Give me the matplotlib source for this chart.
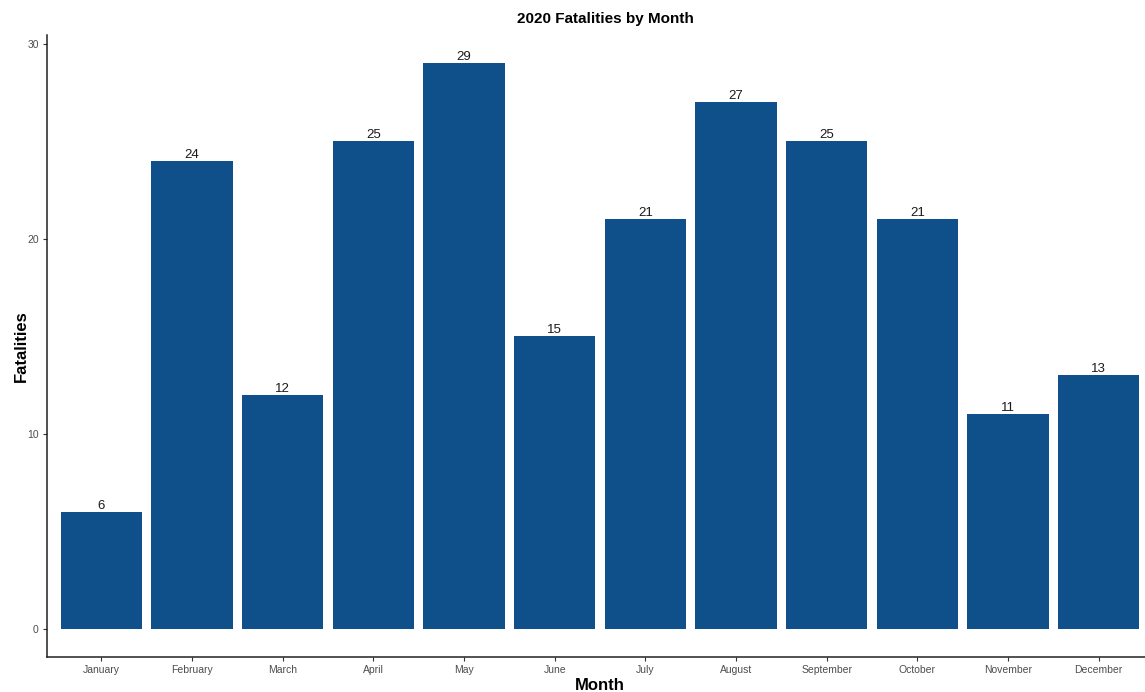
import matplotlib
matplotlib.use('Agg')
import matplotlib.pyplot as plt

plt.rcParams['font.family'] = ['Liberation Sans', 'DejaVu Sans']

# Fatalities per month in 2020
months = ['January', 'February', 'March', 'April', 'May', 'June',
          'July', 'August', 'September', 'October', 'November', 'December']
fatalities = [6, 24, 12, 25, 29, 15, 21, 27, 25, 21, 11, 13]
y_ticks = [0, 10, 20, 30]

W, H = 1145, 692
fig = plt.figure(figsize=(W / 100, H / 100), dpi=100)
# axes box in pixels: left 47, right ~1153 (cropped), top 35, bottom 657
ax = fig.add_axes([47 / W, (H - 657) / H, (1153 - 47) / W, (657 - 35) / H])

x = list(range(1, len(months) + 1))
ax.bar(x, fatalities, width=0.9, color='#0F4F8A')
for xi, v in zip(x, fatalities):
    ax.text(xi, v, str(v), ha='center', va='bottom', fontsize=9.5, color='#1a1a1a')

ax.set_xlim(0.4, 12.6)
ax.set_ylim(-1.45, 30.45)
ax.set_xticks(x)
ax.set_xticklabels(months)
ax.set_yticks(y_ticks)

for s in ['top', 'right']:
    ax.spines[s].set_visible(False)
for s in ['left', 'bottom']:
    ax.spines[s].set_linewidth(1.1)
    ax.spines[s].set_color('#222222')
ax.tick_params(axis='both', labelsize=7.5, labelcolor='#4D4D4D', color='#333333',
               length=3, width=0.8, pad=3)

ax.set_xlabel('Month', fontsize=12, fontweight='bold', labelpad=2)
ax.set_ylabel('Fatalities', fontsize=12, fontweight='bold', va='center')
ax.yaxis.set_label_coords((21 - 47) / (1153 - 47), 0.5)
fig.text(605 / W, 1 - 19 / H, '2020 Fatalities by Month', ha='center', va='center',
         fontsize=11, fontweight='bold')

fig.savefig('out.png', dpi=100)
